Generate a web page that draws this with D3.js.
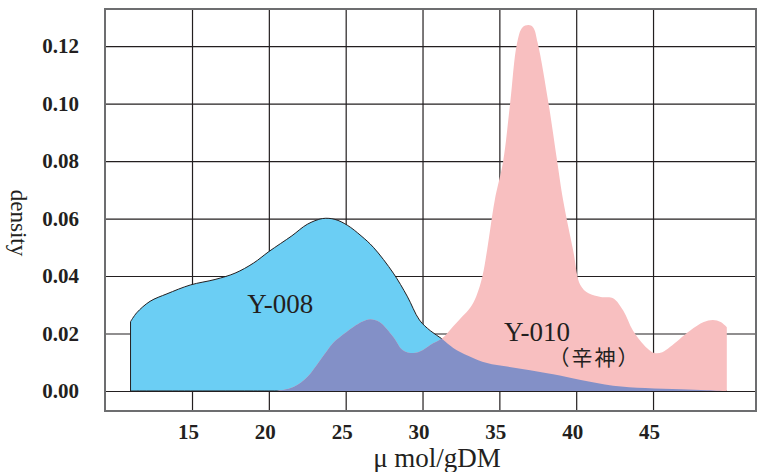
<!DOCTYPE html>
<html>
<head>
<meta charset="utf-8">
<script src="https://cdn.jsdelivr.net/npm/d3@7"></script>
<style>
  body { margin: 0; background: #fff; }
  svg text { font-family: "Liberation Serif", "DejaVu Serif", serif; fill: #231f20; }
</style>
</head>
<body>
<div id="chart"></div>
<script>
// density curves
var y008X = [11.0, 11.4, 12.27, 13.37, 14.9, 16.5, 17.8, 19.0, 20.0, 21.5, 22.5, 23.5, 24.3, 25.1, 26.0, 26.8, 28.1, 29.0, 29.8, 30.5, 31.3, 32.0, 33.0, 34.2, 35.5, 37.0, 38.5, 40.3, 42.4, 44.5, 46.8, 48.5, 49.8];
var y008Y = [0.0241, 0.0272, 0.0312, 0.0338, 0.0369, 0.0388, 0.0410, 0.0445, 0.0485, 0.0540, 0.0580, 0.0600, 0.0597, 0.0577, 0.0540, 0.0500, 0.0410, 0.0330, 0.0247, 0.0210, 0.0180, 0.0150, 0.0122, 0.0097, 0.0085, 0.0072, 0.0058, 0.0038, 0.0018, 0.0010, 0.0006, 0.0003, 0.0];

var y010X = [20.5, 21.6, 22.5, 23.35, 24.18, 24.63, 25.5, 26.1, 26.6, 27.2, 28.1, 28.7, 29.4, 30.0, 30.5, 31.3, 32.0, 32.6, 33.1, 33.5, 33.9, 34.2, 34.7, 35.25, 35.7, 36.15, 36.5, 36.9, 37.2, 37.5, 38.2, 38.76, 39.15, 39.8, 40.26, 40.8, 41.6, 42.4, 43.06, 43.7, 44.6, 45.1, 45.6, 46.1, 47.4, 48.3, 48.9, 49.4, 49.8];
var y010Y = [0.0, 0.0014, 0.0049, 0.0108, 0.0167, 0.0188, 0.0223, 0.0242, 0.0250, 0.0240, 0.0188, 0.0143, 0.0132, 0.0142, 0.0160, 0.0184, 0.0225, 0.0260, 0.0290, 0.0330, 0.0400, 0.0490, 0.0664, 0.0800, 0.1000, 0.1210, 0.1265, 0.1273, 0.1265, 0.1210, 0.1000, 0.0800, 0.0664, 0.0490, 0.0370, 0.0340, 0.0327, 0.0323, 0.0280, 0.0210, 0.0150, 0.0132, 0.0135, 0.0153, 0.0210, 0.0240, 0.0247, 0.0240, 0.0222];

var xTicks = [15, 20, 25, 30, 35, 40, 45];
var yTicks = [0.00, 0.02, 0.04, 0.06, 0.08, 0.10, 0.12];

var svgWidth = 763;
var svgHeight = 472;

var margin = { top: 9, right: 7, bottom: 61, left: 105 };
var width = svgWidth - margin.left - margin.right;
var height = svgHeight - margin.top - margin.bottom;

var svg = d3.select("#chart")
  .append("svg")
  .attr("width", svgWidth)
  .attr("height", svgHeight);

var chartGroup = svg.append("g")
  .attr("transform", `translate(${margin.left}, ${margin.top})`);

var xScale = d3.scaleLinear()
  .domain([9.338, 51.70])
  .range([0, width]);

var yScale = d3.scaleLinear()
  .domain([-0.00696, 0.1329])
  .range([height, 0]);

// grid via axes
var bottomAxis = d3.axisBottom(xScale)
  .tickValues(xTicks)
  .tickSize(-height)
  .tickPadding(13)
  .tickFormat(d3.format("d"));

var leftAxis = d3.axisLeft(yScale)
  .tickValues(yTicks)
  .tickSize(-width)
  .tickPadding(26)
  .tickFormat(d3.format(".2f"));

var xAxis = chartGroup.append("g")
  .attr("transform", `translate(0, ${height})`)
  .call(bottomAxis);

var yAxis = chartGroup.append("g")
  .call(leftAxis);

[xAxis, yAxis].forEach(function(ax) {
  ax.select(".domain").remove();
  ax.selectAll(".tick line").attr("stroke", "#231f20").attr("stroke-width", 1.2);
  ax.selectAll(".tick text")
    .attr("fill", "#231f20")
    .style("font-size", "21px")
    .style("font-weight", "bold");
});
xAxis.selectAll(".tick text").attr("dx", -4);

// areas
var area008 = d3.area()
  .x((d, i) => xScale(y008X[i]))
  .y0(yScale(0))
  .y1((d, i) => yScale(y008Y[i]))
  .curve(d3.curveCatmullRom.alpha(0.5));

var area010 = d3.area()
  .x((d, i) => xScale(y010X[i]))
  .y0(yScale(0))
  .y1((d, i) => yScale(y010Y[i]))
  .curve(d3.curveCatmullRom.alpha(0.5));

chartGroup.append("clipPath")
  .attr("id", "clip008")
  .append("path")
  .attr("d", area008(y008X));

chartGroup.append("path")
  .attr("d", area008(y008X))
  .attr("fill", "#6bcef4")
  .attr("stroke", "#231f20")
  .attr("stroke-width", 1);

chartGroup.append("path")
  .attr("d", area010(y010X))
  .attr("fill", "#f8bfc0");

// overlap of both curves
chartGroup.append("path")
  .attr("d", area010(y010X))
  .attr("clip-path", "url(#clip008)")
  .attr("fill", "#8390c7");

// frame
chartGroup.append("rect")
  .attr("x", 0)
  .attr("y", 0)
  .attr("width", width)
  .attr("height", height)
  .attr("fill", "none")
  .attr("stroke", "#6d6e70")
  .attr("stroke-width", 2);

// labels
chartGroup.append("text")
  .attr("x", xScale(18.6))
  .attr("y", yScale(0.0272))
  .style("font-size", "27px")
  .text("Y-008");

chartGroup.append("text")
  .attr("x", xScale(35.3))
  .attr("y", yScale(0.0173))
  .style("font-size", "27px")
  .text("Y-010");

chartGroup.append("text")
  .attr("x", xScale(38.2))
  .attr("y", yScale(0.0090))
  .style("font-size", "21px")
  .style("letter-spacing", "2px")
  .style("font-family", "'Noto Sans CJK JP', sans-serif")
  .text("（辛神）");

svg.append("text")
  .attr("x", 437)
  .attr("y", 467)
  .attr("text-anchor", "middle")
  .style("font-size", "27px")
  .text("μ mol/gDM");

svg.append("text")
  .attr("transform", "translate(11, 223) rotate(90)")
  .attr("text-anchor", "middle")
  .style("font-size", "23px")
  .text("density");
</script>
</body>
</html>
